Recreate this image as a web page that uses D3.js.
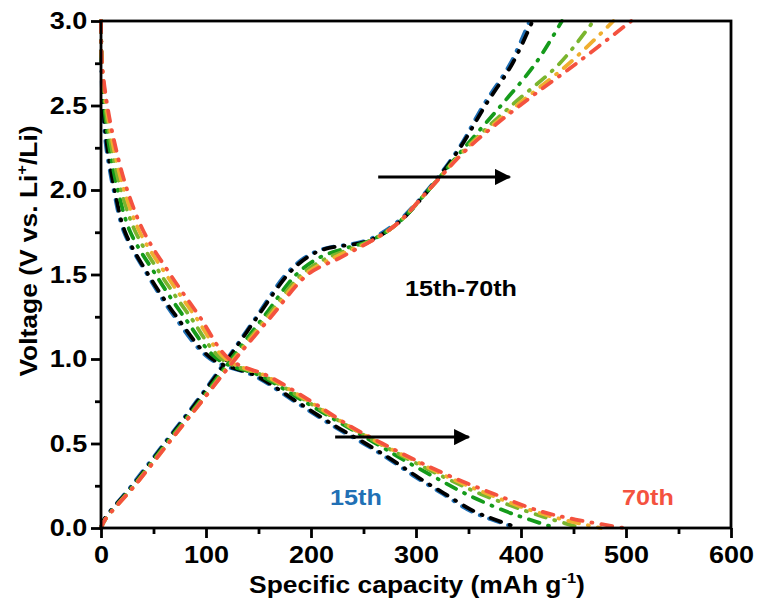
<!DOCTYPE html>
<html>
<head>
<meta charset="utf-8">
<script src="https://cdn.jsdelivr.net/npm/d3@7/dist/d3.min.js"></script>
<style>
  body { margin: 0; background: #fff; }
  text { font-family: "Liberation Sans", Arial, sans-serif; font-weight: bold; }
</style>
</head>
<body>
<svg id="chart" width="759" height="608"></svg>
<script>
// cycles, drawn blue first, red (70th) last
const cycleColors = ['#2170b5', '#000000', '#159b1b', '#7ab52e', '#efae2f', '#f4523f'];

// discharge: capacity (mAh/g) read at these voltages
const dischargeV = [3.0, 2.75, 2.5, 2.25, 2.0, 1.75, 1.5, 1.25, 1.0, 0.9, 0.75, 0.6, 0.5, 0.4, 0.3, 0.2, 0.1, 0.05, 0];
const dischargeCap = [
  [0, 0.4, 1.5, 5, 12, 22, 44, 70, 104, 146, 184, 222, 250, 276, 300, 326, 352, 372, 396],
  [0, 0.5, 2, 6, 13, 23, 45, 72, 106, 148, 186, 224, 252, 278, 302, 328, 355, 375, 398],
  [0, 0.7, 3, 8, 16, 28, 52, 79, 111, 152, 193, 234, 262, 289, 318, 348, 385, 408, 433],
  [0, 0.8, 4, 10, 19, 33, 57, 85, 115, 155, 196, 236, 265, 295, 327, 362, 405, 430, 457],
  [0, 0.9, 5, 12, 22, 37, 62, 90, 119, 157, 198, 237, 266, 298, 331, 369, 412, 440, 476],
  [0, 1, 6, 14, 25, 41, 66, 94, 122, 159, 200, 238, 268, 300, 335, 375, 418, 452, 498]
];

// charge: capacity read at these voltages
const chargeV = [0, 0.05, 0.25, 0.5, 0.75, 1.0, 1.25, 1.5, 1.6, 1.65, 1.7, 1.8, 2.0, 2.25, 2.5, 2.75, 3.0];
const chargeCap = [
  [0, 3, 29, 60, 91, 120, 148, 176, 194, 211, 252, 280, 311, 341, 364, 390, 408],
  [0, 3, 30, 61, 92, 121, 149, 178, 196, 213, 255, 282, 312, 342, 366, 392, 411],
  [0, 4, 31, 62, 94, 124, 155, 186, 208, 230, 256, 282, 312, 346, 381, 414, 439],
  [0, 4, 31, 63, 95, 126, 158, 191, 216, 237, 257, 282, 312, 348, 391, 437, 469],
  [0, 4, 32, 64, 96, 127, 160, 194, 222, 240, 258, 282, 312, 349, 396, 446, 488],
  [0, 4, 32, 64, 96, 128, 162, 197, 228, 243, 258, 282, 312, 350, 399, 453, 505]
];

const xTicks = [0, 100, 200, 300, 400, 500, 600];
const xMinor = [50, 150, 250, 350, 450, 550];
const yTicks = [0, 0.5, 1.0, 1.5, 2.0, 2.5, 3.0];
const yMinor = [0.25, 0.75, 1.25, 1.75, 2.25, 2.75];

const svg = d3.select('#chart');
const plotLeft = 101, plotRight = 731, plotTop = 21, plotBottom = 528;
const sx = 1.12; // glyphs in the picture are a bit wide

const x = d3.scaleLinear().domain([0, 600]).range([plotLeft, plotRight]);
const y = d3.scaleLinear().domain([0, 3]).range([plotBottom, plotTop]);

const line = d3.line()
  .x(d => x(d[0]))
  .y(d => y(d[1]))
  .curve(d3.curveCatmullRom.alpha(0.5));

const curves = svg.append('g');
cycleColors.forEach((c, i) => {
  const dis = dischargeV.map((v, j) => [dischargeCap[i][j], v]);
  const chg = chargeV.map((v, j) => [chargeCap[i][j], v]);
  [dis, chg].forEach(pts => {
    curves.append('path')
      .attr('d', line(pts))
      .attr('fill', 'none')
      .attr('stroke', c)
      .attr('stroke-width', 3.8)
      .attr('stroke-linecap', 'round')
      .attr('stroke-dasharray', '11,9,1,9');
  });
});

// axes
let g = svg.append('g').attr('transform', `translate(0,${plotBottom})`)
  .call(d3.axisBottom(x).tickValues(xTicks).tickSize(10).tickPadding(8).tickFormat(d3.format('d')));
g.select('.domain').remove();
g.selectAll('line').attr('stroke-width', 2.8);
g.selectAll('text').attr('font-size', 23.5).attr('fill', '#000').attr('transform', 'scale(1.15,1)');

g = svg.append('g').attr('transform', `translate(0,${plotBottom})`)
  .call(d3.axisBottom(x).tickValues(xMinor).tickSize(6).tickFormat(''));
g.select('.domain').remove();
g.selectAll('line').attr('stroke-width', 2.8);

g = svg.append('g').attr('transform', `translate(${plotLeft},0)`)
  .call(d3.axisLeft(y).tickValues(yTicks).tickSize(10).tickPadding(2).tickFormat(d3.format('.1f')));
g.select('.domain').remove();
g.selectAll('line').attr('stroke-width', 2.8);
g.selectAll('text').attr('font-size', 23.5).attr('fill', '#000').attr('transform', 'scale(1.15,1)');

g = svg.append('g').attr('transform', `translate(${plotLeft},0)`)
  .call(d3.axisLeft(y).tickValues(yMinor).tickSize(6).tickFormat(''));
g.select('.domain').remove();
g.selectAll('line').attr('stroke-width', 2.8);

svg.append('rect')
  .attr('x', plotLeft).attr('y', plotTop)
  .attr('width', plotRight - plotLeft).attr('height', plotBottom - plotTop)
  .attr('fill', 'none').attr('stroke', '#000').attr('stroke-width', 2.8);

// axis titles
let t = svg.append('text')
  .attr('transform', `translate(417,593) scale(1.1,1)`)
  .attr('text-anchor', 'middle')
  .attr('font-size', 24);
t.append('tspan').text('Specific capacity (mAh g');
t.append('tspan').attr('font-size', 15).attr('dy', -10).text('-1');
t.append('tspan').attr('dy', 10).text(')');

t = svg.append('text')
  .attr('transform', `translate(37,251) rotate(-90) scale(1.1,1)`)
  .attr('text-anchor', 'middle')
  .attr('font-size', 24);
t.append('tspan').text('Voltage (V vs. Li');
t.append('tspan').attr('font-size', 15).attr('dy', -10).text('+');
t.append('tspan').attr('dy', 10).text('/Li)');

// arrows
const arrows = [[264, 392, 2.077], [223, 353, 0.538]];
svg.append('defs').append('marker')
  .attr('id', 'head')
  .attr('viewBox', '0 0 10 10')
  .attr('refX', 9).attr('refY', 5)
  .attr('markerWidth', 8).attr('markerHeight', 5.4)
  .attr('markerUnits', 'strokeWidth')
  .attr('orient', 'auto')
  .append('path').attr('d', 'M0,0 L10,5 L0,10 Z').attr('fill', '#000');
arrows.forEach(a => {
  svg.append('line')
    .attr('x1', x(a[0])).attr('x2', x(a[1]) - 3)
    .attr('y1', y(a[2])).attr('y2', y(a[2]))
    .attr('stroke', '#000').attr('stroke-width', 3)
    .attr('marker-end', 'url(#head)');
});

// labels
const notes = [
  ['15th-70th', 405, 296, '#000'],
  ['15th', 330, 505, '#2170b5'],
  ['70th', 622, 505, '#f4523f']
];
notes.forEach(n => {
  svg.append('text')
    .attr('transform', `translate(${n[1]},${n[2]}) scale(${sx},1)`)
    .attr('font-size', 22.5)
    .attr('fill', n[3])
    .text(n[0]);
});
</script>
</body>
</html>
